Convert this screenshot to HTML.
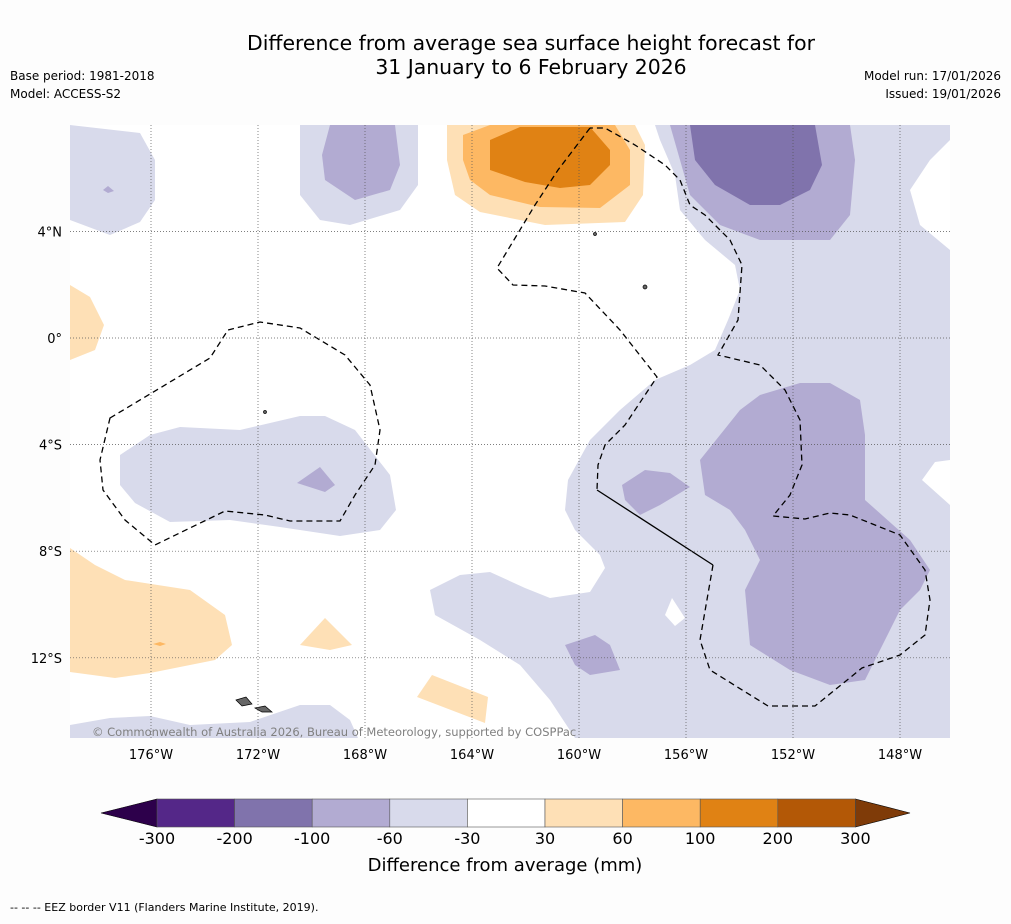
<!DOCTYPE html>
<html><head><meta charset="utf-8"><style>
body{margin:0;background:#fdfdfd;}
svg text{font-family:"DejaVu Sans","Liberation Sans",sans-serif;}
</style></head><body>
<svg width="1011" height="919" viewBox="0 0 1011 919" xmlns="http://www.w3.org/2000/svg">
<rect width="1011" height="919" fill="#fdfdfd"/>
<text x="531" y="50" text-anchor="middle" font-size="20.4" fill="#000">Difference from average sea surface height forecast for</text>
<text x="531" y="74" text-anchor="middle" font-size="20.4" fill="#000">31 January to 6 February 2026</text>
<text x="10" y="80" font-size="12">Base period: 1981-2018</text>
<text x="10" y="98" font-size="12">Model: ACCESS-S2</text>
<text x="1001" y="80" font-size="12" text-anchor="end">Model run: 17/01/2026</text>
<text x="1001" y="98" font-size="12" text-anchor="end">Issued: 19/01/2026</text>

<g>
<rect x="70" y="125" width="880" height="613" fill="#fff"/>
<clipPath id="mc"><rect x="70" y="125" width="880" height="613"/></clipPath>
<g clip-path="url(#mc)">
<g fill="#d8daeb">
<polygon points="70,125 140,133 155,160 155,200 140,222 110,235 70,220"/>
<polygon points="300,125 418,125 418,185 400,210 350,225 320,220 300,195"/>
<polygon points="655,125 950,125 950,140 930,160 910,190 920,225 950,250 950,460 935,462 922,480 950,505 950,738 575,738 550,700 520,665 480,640 435,615 430,590 460,575 490,572 525,588 550,598 590,592 605,568 600,555 575,530 565,510 568,480 590,440 620,410 655,380 690,365 715,350 728,320 740,290 735,265 705,240 680,210 675,175 660,140"/>
<polygon points="70,725 110,718 150,716 190,725 250,722 300,705 330,705 350,720 358,738 70,738"/>
<polygon points="120,455 150,435 180,427 240,430 300,416 325,416 355,430 390,475 396,510 380,530 340,536 280,527 230,520 170,522 135,503 120,485"/>
</g>
<polygon points="665,615 672,598 685,618 675,626" fill="#fff"/>
<g fill="#b2abd2">
<polygon points="330,125 395,125 400,165 390,190 355,200 325,180 322,155"/>
<polygon points="670,125 850,125 855,160 850,215 830,240 760,240 720,225 690,195 680,160"/>
<polygon points="700,460 740,410 760,395 800,383 830,383 860,400 865,435 865,500 910,540 930,570 920,590 900,610 880,650 865,680 830,685 790,670 750,645 745,590 760,560 745,530 730,510 705,495"/>
<polygon points="622,485 645,470 670,473 690,487 660,505 640,515 625,500"/>
<polygon points="565,645 595,635 610,645 620,670 590,675 575,665"/>
<polygon points="297,483 320,467 335,485 325,492"/>
<polygon points="103,190 108,186 114,191 108,193"/>
</g>
<polygon fill="#8073ac" points="690,125 815,125 822,165 810,190 780,205 750,205 715,185 695,160"/>
<g>
<polygon fill="#fee0b6" points="447,125 635,125 645,145 643,195 625,222 545,225 480,212 455,195 447,160"/>
<polygon fill="#fdb863" points="463,135 490,125 615,125 630,150 630,185 600,208 540,207 490,195 470,180 463,160"/>
<polygon fill="#e08214" points="490,140 520,127 590,127 610,150 610,165 590,185 560,188 525,182 490,170"/>
<polygon fill="#fee0b6" points="70,285 90,297 104,325 95,350 70,360"/>
<polygon fill="#fee0b6" points="70,548 95,565 125,580 190,590 225,615 232,645 215,660 150,673 115,678 70,672"/>
<polygon fill="#fee0b6" points="300,645 325,618 352,645 330,650"/>
<polygon fill="#fee0b6" points="417,697 432,675 488,697 485,723"/>
<polygon fill="#fdb863" points="153,644 160,642 166,644 160,646"/>
</g>
<g fill="#666" stroke="#000" stroke-width="0.7">
<polygon points="236,700 246,697 252,704 242,706"/>
<polygon points="255,708 265,706 272,712 262,712"/>
<circle cx="645" cy="287" r="2"/><circle cx="595" cy="234" r="1.5"/><circle cx="265" cy="412" r="1.5"/>
</g>
<g fill="none" stroke="#000" stroke-width="1.3">
<polyline stroke-dasharray="6,4" points="590,128 558,170 535,205 497,268 513,285 545,286 585,293 620,330 657,377 625,425 605,445 598,465 597,490"/>
<polyline points="597,490 713,565"/>
<polyline stroke-dasharray="6,4" points="713,565 700,640 710,670 768,706 815,706 862,668 900,655 925,635 930,600 925,570 900,535 850,515 830,513 805,519 773,516 790,495 802,465 800,420 785,390 760,365 718,355 738,320 742,265 730,240 705,215 690,205 680,180 665,165 635,145 605,128 590,128"/>
<polygon stroke-dasharray="6,4" points="110,418 210,358 228,330 260,322 300,328 345,355 370,385 380,430 375,465 355,495 340,521 290,521 265,515 225,511 155,545 125,520 103,490 100,460"/>
</g>
</g>
<g id="grid" stroke="#555" stroke-width="0.7" stroke-dasharray="1,2"></g>
<text x="92" y="736" font-size="11.5" fill="#808080">© Commonwealth of Australia 2026, Bureau of Meteorology, supported by COSPPac</text>
<g id="axes" font-size="13"></g>
</g>

<g id="cbar"></g>
<text x="505" y="871" text-anchor="middle" font-size="18">Difference from average (mm)</text>
<text x="10" y="911" font-size="11">--  --  -- EEZ border V11 (Flanders Marine Institute, 2019).</text>
</svg>
<script>
const lonLabels=["176°W","172°W","168°W","164°W","160°W","156°W","152°W","148°W"];
const lonValues=[-176,-172,-168,-164,-160,-156,-152,-148];
const latLabels=["4°N","0°","4°S","8°S","12°S"];
const latValues=[4,0,-4,-8,-12];
const cbBounds=[-300,-200,-100,-60,-30,30,60,100,200,300];
const cbColors=["#542788","#8073ac","#b2abd2","#d8daeb","#ffffff","#fee0b6","#fdb863","#e08214","#b35806"];
const cbExtColors=["#2d004b","#7f3b08"];
const NS="http://www.w3.org/2000/svg";
const xLon=v=>151+(v+176)*26.75;
const yLat=v=>338-v*26.65;
const grid=document.getElementById('grid'),axes=document.getElementById('axes');
function mk(t,a,p){const e=document.createElementNS(NS,t);for(const k in a)e.setAttribute(k,a[k]);p.appendChild(e);return e;}
lonValues.forEach((v,i)=>{const x=xLon(v);
 const l=mk('line',{x1:x,x2:x,y1:125,y2:738},grid);
 
 
 const t=mk('text',{x:x,y:759,'text-anchor':'middle'},axes);t.textContent=lonLabels[i];
 
 });
latValues.forEach((v,i)=>{const y=yLat(v);
 const l=mk('line',{x1:70,x2:950,y1:y,y2:y},grid);
 
 
 const t=mk('text',{x:62,y:y+5,'text-anchor':'end'},axes);t.textContent=latLabels[i];
 
 });
const cb=document.getElementById('cbar');
const x0=157,seg=77.6,y0=799,h=28;
const n=cbColors.length;
const le=mk('polygon',{points:`${x0},${y0} ${x0},${y0+h} 101,${y0+h/2}`,fill:cbExtColors[0],stroke:'#000','stroke-width':0.6},cb);


const xe=x0+n*seg;
const re=mk('polygon',{points:`${xe},${y0} ${xe},${y0+h} 910,${y0+h/2}`,fill:cbExtColors[1],stroke:'#000','stroke-width':0.6},cb);


cbColors.forEach((c,i)=>{const r=mk('rect',{x:x0+i*seg,y:y0,width:seg,height:h,fill:c,stroke:'#555','stroke-width':0.6},cb);
 
 });
cbBounds.forEach((b,i)=>{const t=mk('text',{x:x0+i*seg,y:844,'text-anchor':'middle','font-size':16},cb);t.textContent=b;
 
 });
</script>
</body></html>
